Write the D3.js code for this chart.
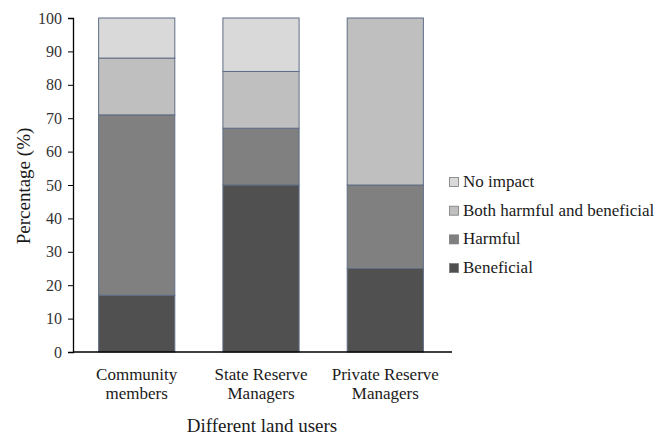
<!DOCTYPE html>
<html>
<head>
<meta charset="utf-8">
<script src="https://cdn.jsdelivr.net/npm/d3@7"></script>
<style>
  body { margin: 0; background: #fff; }
</style>
</head>
<body>
<svg id="chart" width="670" height="435"></svg>
<script>
// Land-user groups and their responses (percent of respondents)
const categories = [["Community", "members"], ["State Reserve", "Managers"], ["Private Reserve", "Managers"]];
const categoryKeys = ["Community members", "State Reserve Managers", "Private Reserve Managers"];
const seriesNames = ["Beneficial", "Harmful", "Both harmful and beneficial", "No impact"];
const beneficial = [17, 50, 25];
const harmful = [54, 17, 25];
const bothHarmfulBeneficial = [17, 17, 50];
const noImpact = [12, 16, 0];
const yTicks = [0, 10, 20, 30, 40, 50, 60, 70, 80, 90, 100];

const FONT = "'Liberation Serif', 'Times New Roman', serif";

const colors = {
  "Beneficial": "#505050",
  "Harmful": "#808080",
  "Both harmful and beneficial": "#bfbfbf",
  "No impact": "#d9d9d9"
};

const rows = categoryKeys.map((k, i) => ({
  key: k,
  "Beneficial": beneficial[i],
  "Harmful": harmful[i],
  "Both harmful and beneficial": bothHarmfulBeneficial[i],
  "No impact": noImpact[i]
}));

const svg = d3.select("#chart");

const x = d3.scaleBand().domain(categoryKeys).range([75, 447])
  .paddingInner(0.387).paddingOuter(0.19);
const y = d3.scaleLinear().domain([0, 100]).range([352, 18]);

const stack = d3.stack().keys(seriesNames)(rows);

// Stacked bars
svg.append("g").selectAll("g").data(stack).join("g")
  .attr("fill", d => colors[d.key])
  .selectAll("rect").data(d => d.filter(s => s[1] - s[0] > 0)).join("rect")
  .attr("x", d => x(d.data.key))
  .attr("y", d => y(d[1]))
  .attr("width", x.bandwidth())
  .attr("height", d => y(d[0]) - y(d[1]))
  .attr("stroke", "#5f6d85")
  .attr("stroke-width", 1);

// Y axis
const yAxis = svg.append("g").attr("transform", "translate(73,0)")
  .call(d3.axisLeft(y).tickValues(yTicks).tickSize(5).tickPadding(6));
yAxis.attr("font-family", null);
yAxis.select(".domain").attr("stroke", "#000").attr("stroke-width", 1.3);
yAxis.selectAll(".tick line").attr("stroke", "#000");
yAxis.selectAll("text").style("font-size", "16px").attr("fill", "#333");

// X axis line and category labels
svg.append("line").attr("x1", 73).attr("x2", 452).attr("y1", 352).attr("y2", 352)
  .attr("stroke", "#000").attr("stroke-width", 1.5);

const xLabels = svg.append("g");
categoryKeys.forEach((k, i) => {
  const cx = x(k) + x.bandwidth() / 2;
  const t = xLabels.append("text")
    .attr("x", cx)
    .attr("text-anchor", "middle")
    .style("font-size", "17px");
  categories[i].forEach((line, j) => {
    t.append("tspan").attr("x", cx).attr("y", 380 + j * 19).text(line);
  });
});

// Axis titles
svg.append("text").attr("x", 262).attr("y", 432).attr("text-anchor", "middle")
  .style("font-size", "19px").text("Different land users");
svg.append("text").attr("transform", "translate(30,186) rotate(-90)")
  .attr("text-anchor", "middle").style("font-size", "19px").text("Percentage (%)");

// Legend (top-down: No impact first)
const legendItems = seriesNames.slice().reverse();
const legend = svg.append("g").attr("transform", "translate(449,187)");
legendItems.forEach((name, i) => {
  const g = legend.append("g").attr("transform", `translate(0,${i * 28.7})`);
  g.append("rect").attr("x", 0.5).attr("y", -9.5).attr("width", 9).attr("height", 9)
    .attr("fill", colors[name]).attr("stroke", "#7a7a7a").attr("stroke-width", 0.8);
  g.append("text").attr("x", 14).attr("y", 0).style("font-size", "17px").text(name);
});

// Serif face on every label
svg.selectAll("text").style("font-family", FONT).style("fill", "#1a1a1a");
yAxis.selectAll("text").style("fill", "#333");
</script>
</body>
</html>
